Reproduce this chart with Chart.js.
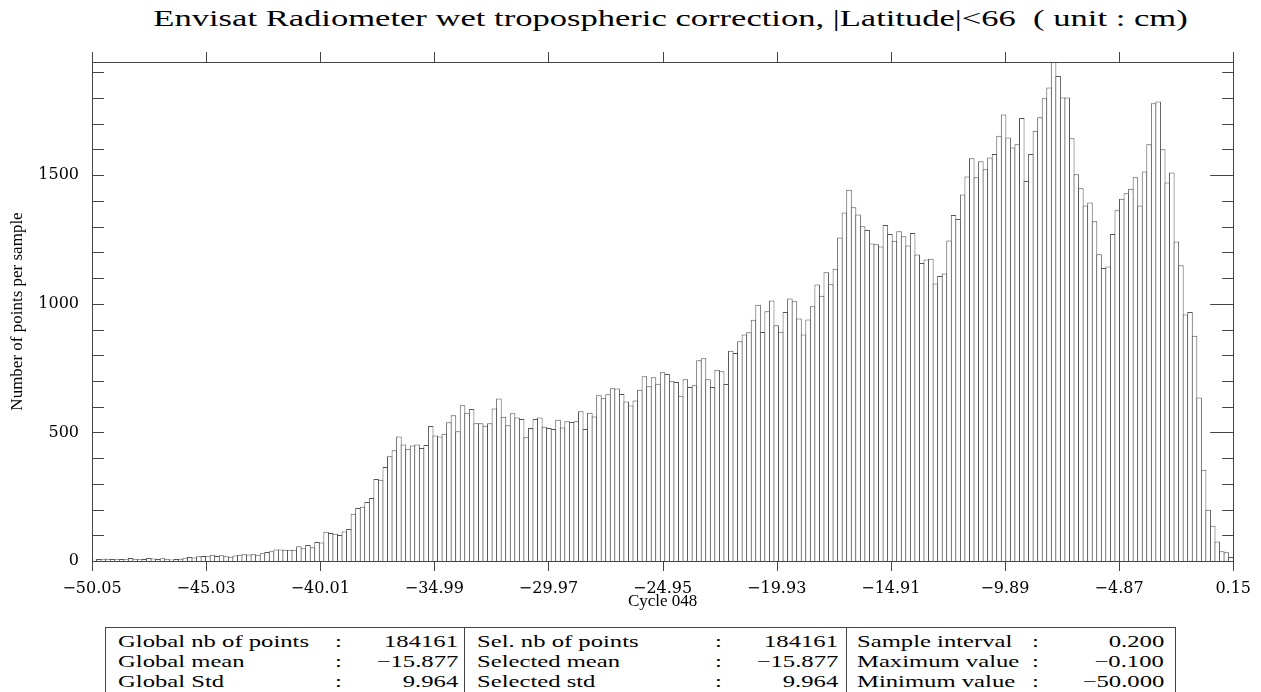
<!DOCTYPE html>
<html>
<head>
<meta charset="utf-8">
<script src="https://cdn.jsdelivr.net/npm/chart.js@4.4.0/dist/chart.umd.min.js"></script>
<style>
  body { margin: 0; background: #fff; width: 1261px; height: 692px; overflow: hidden; position: relative; }
  #wrap { position: absolute; left: 0; top: 0; width: 1261px; height: 620px; }
  .txt { position: absolute; white-space: pre; color: #000; font-family: 'Liberation Serif', 'Times New Roman', serif; }
  #title { left: 40px; top: 4px; width: 1261px; text-align: center; font-size: 24px; line-height: 28px; transform: scaleX(1.44); }
  #stats { position: absolute; left: 105px; top: 627px; width: 1069px; height: 90px; border: 1px solid #444; }
  .vline { position: absolute; top: 627px; width: 1px; height: 70px; background: #444; }
  .cell { font-size: 17px; line-height: 20px; }
</style>
</head>
<body>
<div id="title" class="txt">Envisat Radiometer wet tropospheric correction, |Latitude|&lt;66  ( unit : cm)</div>
<div id="wrap"><canvas id="hist"></canvas></div>
<div id="stats"></div>

<script>
// histogram bins: 0.2 wide, starting at -50.05
const binStart = -50.05;
const binWidth = 0.2;
const counts = [
   5,   8,   9,   9,   8,   7,   8,   7,  12,   9,
   7,   8,  12,  10,   8,  11,   9,   6,   8,   9,
  13,  16,  14,  18,  19,  18,  24,  19,  22,  18,
  17,  21,  24,  26,  25,  26,  24,  30,  35,  38,
  45,  45,  44,  44,  44,  57,  50,  62,  53,  74,
  72, 114, 109, 106, 101, 115, 124, 184, 206, 211,
 229, 245, 319, 316, 365, 407, 431, 484, 453, 436,
 449, 453, 439, 451, 525, 488, 484, 495, 539, 567,
 504, 606, 576, 591, 536, 536, 526, 536, 593, 632,
 561, 528, 574, 558, 552, 481, 517, 552, 558, 522,
 517, 513, 549, 519, 543, 540, 543, 582, 513, 576,
 562, 644, 633, 648, 672, 671, 649, 620, 605, 624,
 666, 718, 679, 714, 689, 734, 727, 701, 696, 642,
 707, 676, 683, 780, 788, 707, 676, 744, 738, 688,
 817, 809, 854, 881, 889, 938, 996, 890, 971, 1013,
 917, 891, 968, 1021, 1010, 943, 881, 939, 990, 1075,
 1031, 1123, 1076, 1136, 1258, 1355, 1443, 1375, 1347, 1301,
 1287, 1234, 1231, 1223, 1306, 1271, 1245, 1282, 1263, 1227,
 1275, 1192, 1159, 1172, 1175, 1079, 1108, 1118, 1246, 1345,
 1330, 1425, 1495, 1566, 1492, 1554, 1523, 1569, 1582, 1653,
 1736, 1646, 1608, 1620, 1722, 1477, 1582, 1673, 1725, 1799,
 1841, 1940, 1886, 1802, 1802, 1644, 1504, 1449, 1382, 1394,
 1321, 1193, 1139, 1145, 1271, 1364, 1408, 1430, 1447, 1492,
 1382, 1514, 1620, 1780, 1786, 1601, 1472, 1510, 1242, 1150,
  958, 968, 876, 636, 355, 199, 137, 76, 38, 34, 16
];

const xTicks = [-50.05, -45.03, -40.01, -34.99, -29.97, -24.95, -19.93, -14.91, -9.89, -4.87, 0.15];
const yMajor = [0, 500, 1000, 1500];
const yMinorStep = 100;
const yMax = 1940;

const statLabels = [
  ['Global nb of points', 'Global mean', 'Global Std'],
  ['Sel. nb of points', 'Selected mean', 'Selected std'],
  ['Sample interval', 'Maximum value', 'Minimum value']
];
const statValues = [
  ['184161', '\u221215.877', '9.964'],
  ['184161', '\u221215.877', '9.964'],
  ['0.200', '\u22120.100', '\u221250.000']
];

const fmtX = v => (v < 0 ? '\u2212' : '') + Math.abs(v).toFixed(2);

const points = counts.map((c, i) => ({ x: binStart + binWidth * (i + 0.5), y: c }));

// frame + IDL style ticks (left/right inside, top/bottom outside)
const framePlugin = {
    id: 'frame',
    afterDatasetsDraw(chart) {
        const { ctx, chartArea: a, scales: { x, y } } = chart;
        ctx.save();
        ctx.strokeStyle = '#444'; ctx.lineWidth = 1;
        ctx.strokeRect(Math.round(a.left) + 0.5, Math.round(a.top) + 0.5, Math.round(a.right - a.left), Math.round(a.bottom - a.top));
        ctx.beginPath();
        x.ticks.forEach(t => {
            const px = Math.round(x.getPixelForValue(t.value)) + 0.5;
            ctx.moveTo(px, a.top - 10); ctx.lineTo(px, a.top);
            ctx.moveTo(px, a.bottom); ctx.lineTo(px, a.bottom + 10);
        });
        y.ticks.forEach(t => {
            const py = Math.round(y.getPixelForValue(t.value)) + 0.5;
            const major = yMajor.includes(t.value);
            ctx.moveTo(a.left, py); ctx.lineTo(a.left + 12, py);
            ctx.moveTo(a.right, py); ctx.lineTo(a.right - (major ? 23 : 11), py);
        });
        ctx.stroke();
        ctx.restore();
    }
};

new Chart(document.getElementById('hist').getContext('2d'), {
    type: 'bar',
    data: { datasets: [{
        data: points,
        backgroundColor: '#fff',
        borderColor: '#555',
        borderWidth: 1,
        barPercentage: 1.22,
        categoryPercentage: 1
    }]},
    options: {
        responsive: true, maintainAspectRatio: false, animation: false,
        layout: { padding: { top: 62, right: 21, bottom: 0, left: 0 } },
        plugins: { legend: { display: false }, tooltip: { enabled: false } },
        scales: {
            x: {
                type: 'linear', min: xTicks[0], max: xTicks[xTicks.length - 1], offset: false,
                grid: { display: false }, border: { display: false },
                afterBuildTicks: s => { s.ticks = xTicks.map(v => ({ value: v })); },
                ticks: { autoSkip: false, maxRotation: 0, padding: 10, color: '#000',
                         font: { family: 'DejaVu Serif', size: 16 }, callback: v => fmtX(v) },
                title: { display: true, text: 'Cycle 048', color: '#000',
                         font: { family: 'Liberation Serif', size: 17 }, padding: { top: 0, bottom: 8 } },
                afterFit: s => { s.height = 59; }
            },
            y: {
                min: 0, max: yMax,
                grid: { display: false }, border: { display: false },
                afterBuildTicks: s => {
                    const t = [];
                    for (let v = 0; v < yMax; v += yMinorStep) t.push({ value: v });
                    s.ticks = t;
                },
                ticks: { autoSkip: false, padding: 5, color: '#000',
                         font: { family: 'DejaVu Serif', size: 16 },
                         callback: v => yMajor.includes(v) ? String(v) : '' },
                title: { display: true, text: 'Number of points per sample', color: '#000',
                         font: { family: 'Liberation Serif', size: 17 }, padding: { top: 7, bottom: 0 } },
                afterFit: s => { s.width = 92; }
            }
        }
    },
    plugins: [framePlugin]
});

// stats table under the plot
const colLabelX = [118, 477, 857];
const colColonX = [336, 716, 1033];
const colValueR = [458, 838, 1164];
const rowBase = [648, 668, 688];
[464, 846].forEach(x => {
    const d = document.createElement('div');
    d.className = 'vline'; d.style.left = x + 'px';
    document.body.appendChild(d);
});
const addTxt = (text, css) => {
    const d = document.createElement('div');
    d.className = 'txt cell';
    d.textContent = text;
    Object.assign(d.style, css);
    document.body.appendChild(d);
};
statLabels.forEach((col, c) => {
    col.forEach((lab, r) => {
        const top = (rowBase[r] - 15.7) + 'px';
        addTxt(lab, { left: colLabelX[c] + 'px', top, transform: 'scaleX(1.45)', transformOrigin: '0 50%' });
        addTxt(':', { left: colColonX[c] + 'px', top, transform: 'scaleX(1.45)' });
        addTxt(statValues[c][r], { right: (1261 - colValueR[c]) + 'px', top, transform: 'scaleX(1.45)', transformOrigin: '100% 50%' });
    });
});
</script>
</body>
</html>
